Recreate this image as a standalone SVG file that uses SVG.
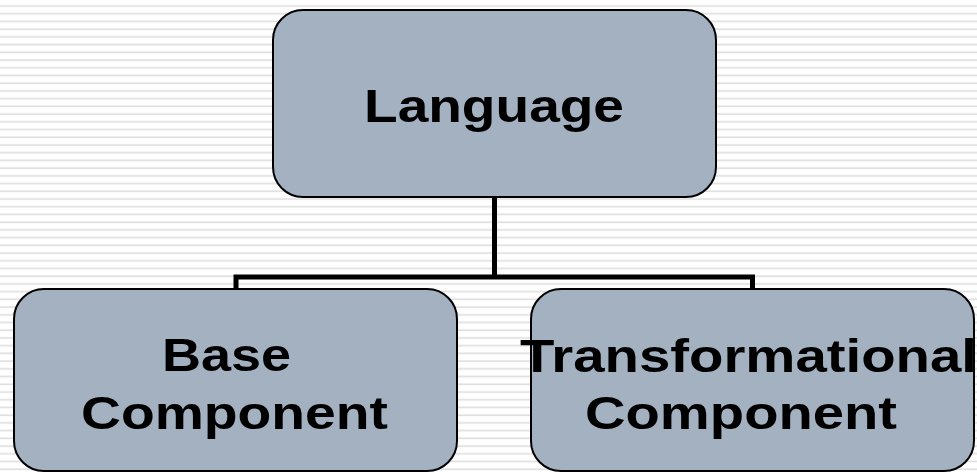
<svg xmlns="http://www.w3.org/2000/svg" width="977" height="472" viewBox="0 0 977 472">
  <defs>
    <!-- faint horizontal ruling behind the chart -->
    <pattern id="ruling" patternUnits="userSpaceOnUse" x="0" y="0" width="977" height="7.72">
      <rect x="0" y="5.2" width="977" height="1.7" fill="#dfdfdf"/>
    </pattern>
  </defs>
  <style>
    .box { fill: #a3b1c1; stroke: #000; stroke-width: 2; }
    .label { font-family: "Liberation Sans", Arial, sans-serif; font-weight: bold; font-size: 46px; fill: #000; }
    .link { fill: none; stroke: #000; stroke-width: 5; stroke-linecap: butt; stroke-linejoin: miter; }
  </style>

  <rect x="0" y="0" width="977" height="472" fill="#ffffff"/>
  <rect x="0" y="0" width="977" height="472" fill="url(#ruling)"/>

  <!-- tree connectors -->
  <g id="connectors">
    <path class="link" d="M494.5 197 V277"/>
    <path class="link" d="M236 289 V277 H752.5 V289"/>
  </g>

  <g id="node-language">
    <rect class="box" x="273" y="10" width="443" height="187" rx="30" ry="30"/>
    <text class="label" x="364" y="122" textLength="260" lengthAdjust="spacingAndGlyphs">Language</text>
  </g>

  <g id="node-base">
    <rect class="box" x="14" y="289" width="443" height="182" rx="30" ry="30"/>
    <text class="label" x="162" y="371" textLength="129" lengthAdjust="spacingAndGlyphs">Base</text>
    <text class="label" x="81" y="429" textLength="307" lengthAdjust="spacingAndGlyphs">Component</text>
  </g>

  <g id="node-transformational">
    <rect class="box" x="531" y="289" width="443" height="182" rx="30" ry="30"/>
    <text class="label" x="520" y="372" textLength="457" lengthAdjust="spacingAndGlyphs">Transformational</text>
    <text class="label" x="585" y="429" textLength="312" lengthAdjust="spacingAndGlyphs">Component</text>
  </g>
</svg>
